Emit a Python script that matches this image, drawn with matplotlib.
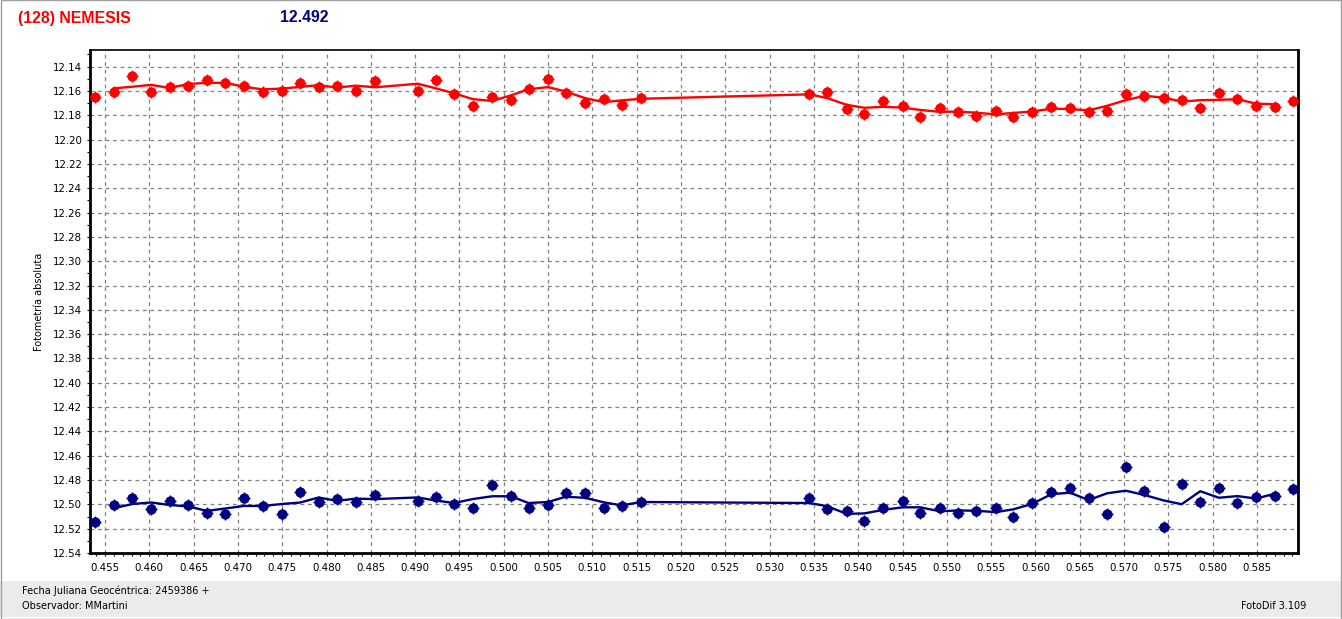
#!/usr/bin/env python3
"""plot.py - curva de luz FotoDif, (128) Nemesis vs estrella de comparacion"""

import numpy as np
import pandas as pd
import matplotlib
matplotlib.use("Agg")
import matplotlib.pyplot as plt
from matplotlib.ticker import MultipleLocator, FormatStrFormatter
from matplotlib.patches import Rectangle

# fraccion de dia juliano (JD 2459386 + x)
jd_frac = [
    0.4539, 0.4560, 0.4581, 0.4602, 0.4623, 0.4644, 0.4665, 0.4686,
    0.4707, 0.4728, 0.4750, 0.4770, 0.4791, 0.4812, 0.4833, 0.4855,
    0.4903, 0.4923, 0.4944, 0.4965, 0.4987, 0.5008, 0.5028, 0.5050,
    0.5070, 0.5092, 0.5113, 0.5133, 0.5155,
    0.5345, 0.5365, 0.5387, 0.5407, 0.5428, 0.5450, 0.5470, 0.5492,
    0.5513, 0.5533, 0.5555, 0.5575, 0.5596, 0.5618,
    0.5639, 0.5660, 0.5681, 0.5702, 0.5723, 0.5745, 0.5765, 0.5786,
    0.5807, 0.5828, 0.5849, 0.5870, 0.5891,
]

# asteroide (rojo)
mag_nemesis = [
    12.1646, 12.1610, 12.1480, 12.1605, 12.1564, 12.1556, 12.1507, 12.1536,
    12.1556, 12.1605, 12.1600, 12.1536, 12.1564, 12.1556, 12.1597, 12.1515,
    12.1597, 12.1509, 12.1627, 12.1722, 12.1651, 12.1673, 12.1585, 12.1501,
    12.1618, 12.1695, 12.1665, 12.1714, 12.1654,
    12.1624, 12.1605, 12.1747, 12.1790, 12.1679, 12.1722, 12.1810, 12.1736,
    12.1769, 12.1804, 12.1763, 12.1810, 12.1769, 12.1728,
    12.1741, 12.1777, 12.1761, 12.1627, 12.1638, 12.1654, 12.1673, 12.1736,
    12.1618, 12.1665, 12.1720, 12.1728, 12.1679,
]

# estrella de comparacion (azul)
mag_comp = [
    12.5145, 12.5006, 12.4945, 12.5039, 12.4970, 12.5006, 12.5075, 12.5081,
    12.4945, 12.5012, 12.5083, 12.4895, 12.4978, 12.4958, 12.4978, 12.4922,
    12.4970, 12.4937, 12.4997, 12.5033, 12.4839, 12.4928, 12.5033, 12.5006,
    12.4903, 12.4903, 12.5033, 12.5014, 12.4978,
    12.4950, 12.5039, 12.5056, 12.5139, 12.5028, 12.4970, 12.5075, 12.5028,
    12.5067, 12.5056, 12.5033, 12.5103, 12.4987, 12.4900,
    12.4862, 12.4950, 12.5081, 12.4695, 12.4887, 12.5187, 12.4831, 12.4978,
    12.4867, 12.4992, 12.4937, 12.4928, 12.4873,
]

RED = "#ff0000"
NAVY = "#000080"
GRID = "#808080"

df = pd.DataFrame({"x": jd_frac, "ast": mag_nemesis, "comp": mag_comp})
# media movil de 3 puntos (la curva que dibuja FotoDif)
smooth = df[["ast", "comp"]].rolling(3, center=True).mean()
smooth["x"] = df["x"]
smooth = smooth.dropna()

plt.rcParams["font.family"] = ["DejaVu Sans"]

fig = plt.figure(figsize=(13.42, 6.19), dpi=100)
W, H = 1342, 619

# franja inferior gris y marco
fig.patches.append(Rectangle((0, 1 - 617 / H), 1, (617 - 581) / H,
                             transform=fig.transFigure, facecolor="#ebebeb",
                             edgecolor="none", zorder=0))
fig.patches.append(Rectangle((0.0004, 0.0008), 0.9985, 0.9984,
                             transform=fig.transFigure, facecolor="none",
                             edgecolor="#a0a0a0", lw=1.0, zorder=1))

ax = fig.add_axes([90 / W, 1 - 553 / H, (1298 - 90) / W, (553 - 50) / H])

def draw_series(y, color):
    ax.plot(df["x"], df[y], linestyle="none", marker="o", ms=6.4,
            color=color, zorder=3)
    ax.plot(df["x"], df[y], linestyle="none", marker="+", ms=8.5, mew=1.0,
            color=color, zorder=3)
    ax.plot(smooth["x"], smooth[y], color=color, lw=1.7, zorder=2)

draw_series("ast", RED)
draw_series("comp", NAVY)

ax.set_xlim(0.45331, 0.58963)
ax.set_ylim(12.54, 12.1263)

ax.xaxis.set_major_locator(MultipleLocator(0.005))
ax.xaxis.set_minor_locator(MultipleLocator(0.001))
ax.xaxis.set_major_formatter(FormatStrFormatter("%.3f"))
ax.yaxis.set_major_locator(MultipleLocator(0.02))
ax.yaxis.set_minor_locator(MultipleLocator(0.01))
ax.yaxis.set_major_formatter(FormatStrFormatter("%.2f"))

ax.tick_params(axis="both", which="major", labelsize=7.4, direction="out",
               length=2.5, width=0.8, colors="black")
ax.tick_params(axis="both", which="minor", direction="out", length=2,
               width=0.8)
ax.tick_params(axis="x", which="major", pad=5)
ax.tick_params(axis="y", which="major", pad=3)

ax.grid(True, which="major", color=GRID, linestyle=(0, (3, 3)), lw=0.9)
ax.set_axisbelow(True)

for side in ["left", "bottom", "right"]:
    ax.spines[side].set_linewidth(2.0)
ax.spines["top"].set_linewidth(1.2)

ax.set_ylabel("Fotometría absoluta", fontsize=7, labelpad=7)

fig.text(18 / W, 1 - 18 / H, "(128) NEMESIS", color=RED, fontsize=11.4,
         fontweight="bold", family="Liberation Sans", va="center", ha="left")
fig.text(304 / W, 1 - 18 / H, "12.492", color=NAVY, fontsize=11.4,
         fontweight="bold", family="Liberation Sans", va="center", ha="center")

fig.text(22 / W, 1 - 591 / H, "Fecha Juliana Geocéntrica: 2459386 +",
         fontsize=7, va="center", ha="left")
fig.text(22 / W, 1 - 606 / H, "Observador: MMartini", fontsize=7,
         va="center", ha="left")
fig.text(1306 / W, 1 - 606 / H, "FotoDif 3.109", fontsize=7,
         va="center", ha="right")

fig.savefig("out.png", dpi=100)
